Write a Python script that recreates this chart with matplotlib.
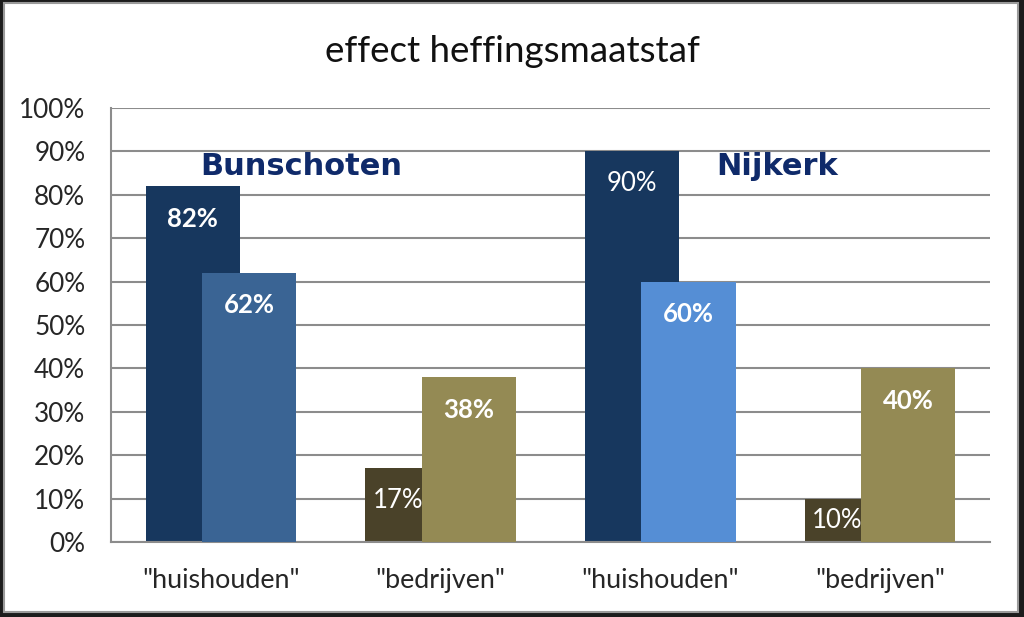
import matplotlib
matplotlib.use("Agg")
import matplotlib.pyplot as plt
from matplotlib.patches import Rectangle

categories = ['"huishouden"', '"bedrijven"', '"huishouden"', '"bedrijven"']
first_vals = [82, 17, 90, 10]
second_vals = [62, 38, 60, 40]
first_colors = ["#17375E", "#4A4229", "#17375E", "#4A4229"]
second_colors = ["#3A6494", "#948A54", "#558ED5", "#948A54"]
first_bold = [True, False, False, False]
second_bold = [True, True, True, True]
title = "effect heffingsmaatstaf"
places = ["Bunschoten", "Nijkerk"]

plt.rcParams['font.family'] = ['Lato', 'DejaVu Sans']

fig = plt.figure(figsize=(10.24, 6.17), dpi=100, facecolor="#1c1c1c")
# white card with thin grey rim inside the dark frame
fig.patches.append(Rectangle((4 / 1024, 5 / 617), 1014 / 1024, 609 / 617,
                             transform=fig.transFigure, facecolor="white",
                             edgecolor="#9a9a9a", linewidth=1.5, zorder=-5))

ax = fig.add_axes([111 / 1024, 75 / 617, 879 / 1024, 434 / 617])
ax.set_facecolor("white")
ax.set_zorder(2)

x = list(range(len(categories)))
w = 0.428
off = 0.128

for i in x:
    ax.bar(i - off, first_vals[i], w, color=first_colors[i], zorder=2)
    ax.bar(i + off, second_vals[i], w, color=second_colors[i], zorder=3)

# value labels
for i in x:
    v1, v2 = first_vals[i], second_vals[i]
    y1 = max(v1 - 7.5, v1 / 2)
    y2 = max(v2 - 7.5, v2 / 2)
    if v1 > v2 + 10:
        x1 = i - off
    else:
        # roughly centre on the visible part of the hidden bar
        x1 = ((i - off - w / 2) + (i + off - w / 2)) / 2 + 0.02
    ax.text(x1, y1, f"{v1}%", color="white", ha="center", va="center",
            fontsize=18.5, fontweight="bold" if first_bold[i] else "normal", zorder=5)
    ax.text(i + off, y2, f"{v2}%", color="white", ha="center", va="center",
            fontsize=18.5, fontweight="bold" if second_bold[i] else "normal", zorder=5)

ax.text(0.365, 86.5, places[0], color="#0F2A6A", ha="center", va="center",
        fontsize=22, fontweight="bold", family="DejaVu Sans", zorder=5)
ax.text(2.53, 86.5, places[1], color="#0F2A6A", ha="center", va="center",
        fontsize=22, fontweight="bold", family="DejaVu Sans", zorder=5)

ax.set_xlim(-0.5, 3.5)
ax.set_ylim(0, 100)
ax.set_yticks(range(0, 101, 10))
ax.set_yticklabels([f"{t}%" for t in range(0, 101, 10)])
ax.set_xticks(x)
ax.set_xticklabels(categories)
ax.tick_params(axis="y", length=0, pad=18.5, labelsize=18.8, labelcolor="#262626")
ax.tick_params(axis="x", length=0, pad=19, labelsize=19.4, labelcolor="#262626")
ax.yaxis.grid(True, color="#8c8c8c", linewidth=1.5, zorder=0)
ax.set_axisbelow(True)

for s in ["top", "right"]:
    ax.spines[s].set_visible(False)
for s in ["left", "bottom"]:
    ax.spines[s].set_color("#8c8c8c")
    ax.spines[s].set_linewidth(1.5)

fig.text(0.5, 1 - 51 / 617, title, ha="center", va="center", fontsize=26.5,
         color="#111111")

fig.savefig("out.png", dpi=100, facecolor=fig.get_facecolor())
